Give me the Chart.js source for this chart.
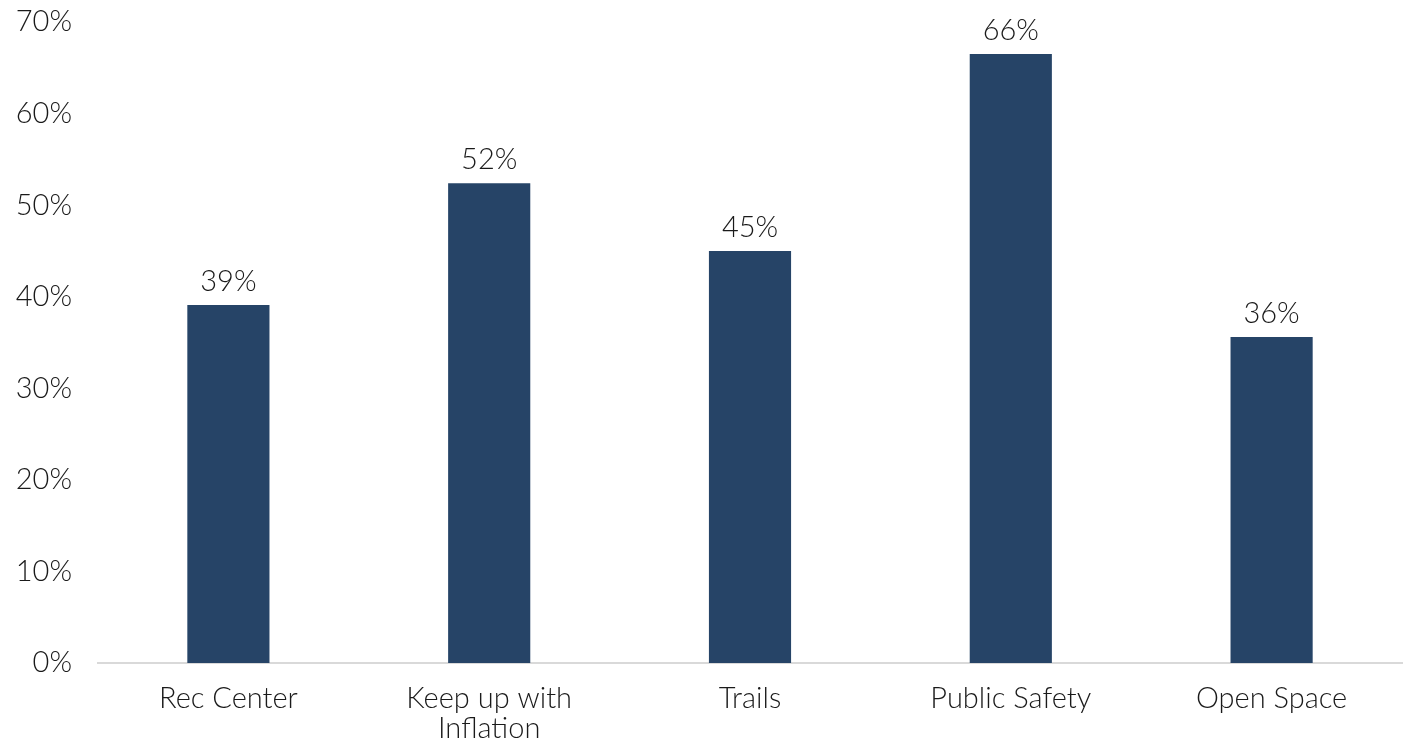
<!DOCTYPE html>
<html>
<head>
<meta charset="utf-8">
<script src="https://cdn.jsdelivr.net/npm/chart.js@4/dist/chart.umd.min.js"></script>
<style>
  html, body { margin: 0; padding: 0; background: #fff; }
  #wrap { width: 1411px; height: 744px; }
</style>
</head>
<body>
<div id="wrap"><canvas id="chart"></canvas></div>
<script>
const categories = ['Rec Center', ['Keep up with', 'Inflation'], 'Trails', 'Public Safety', 'Open Space'];
const shares = [39.1, 52.4, 45.0, 66.5, 35.6];
const shareLabels = ['39%', '52%', '45%', '66%', '36%'];
const yTicks = [0, 10, 20, 30, 40, 50, 60, 70];

const barColor = '#264467';
const textColor = '#1a1a1a';
const fontFamily = 'Lato, "Noto Sans", sans-serif';
const fontSize = 29;

// draws the % values above each bar
const valueLabels = {
    id: 'valueLabels',
    afterDatasetsDraw(chart) {
        const ctx = chart.ctx;
        const meta = chart.getDatasetMeta(0);
        ctx.save();
        ctx.font = '300 ' + fontSize + 'px ' + fontFamily;
        ctx.fillStyle = textColor;
        ctx.textAlign = 'center';
        ctx.textBaseline = 'bottom';
        meta.data.forEach((bar, i) => {
            ctx.fillText(shareLabels[i], bar.x, bar.y - 9);
        });
        ctx.restore();
    }
};

new Chart(document.getElementById('chart'), {
    type: 'bar',
    data: {
        labels: categories,
        datasets: [{
            data: shares,
            backgroundColor: barColor,
            categoryPercentage: 1,
            barPercentage: 0.315
        }]
    },
    options: {
        responsive: true,
        maintainAspectRatio: false,
        animation: false,
        layout: { padding: { top: 0, right: 9, left: 0, bottom: 0 } },
        plugins: {
            legend: { display: false },
            tooltip: { enabled: false }
        },
        scales: {
            x: {
                grid: { display: false },
                border: { display: true, color: '#d9d9d9', width: 2 },
                afterFit(scale) {
                    scale.height = 81;
                },
                ticks: {
                    color: textColor,
                    font: { family: fontFamily, size: fontSize, weight: '300', lineHeight: 1.03 },
                    padding: 13,
                    maxRotation: 0
                }
            },
            y: {
                min: 0,
                max: 70,
                afterBuildTicks(axis) {
                    axis.ticks = yTicks.map(v => ({ value: v }));
                },
                afterFit(scale) {
                    scale.width = 98;
                    scale.paddingTop = 22;
                    scale.paddingBottom = 0;
                },
                grid: { display: false },
                border: { display: false },
                ticks: {
                    color: textColor,
                    font: { family: fontFamily, size: fontSize, weight: '300' },
                    padding: 18,
                    callback: v => v + '%'
                }
            }
        }
    },
    plugins: [valueLabels]
});
</script>
</body>
</html>
